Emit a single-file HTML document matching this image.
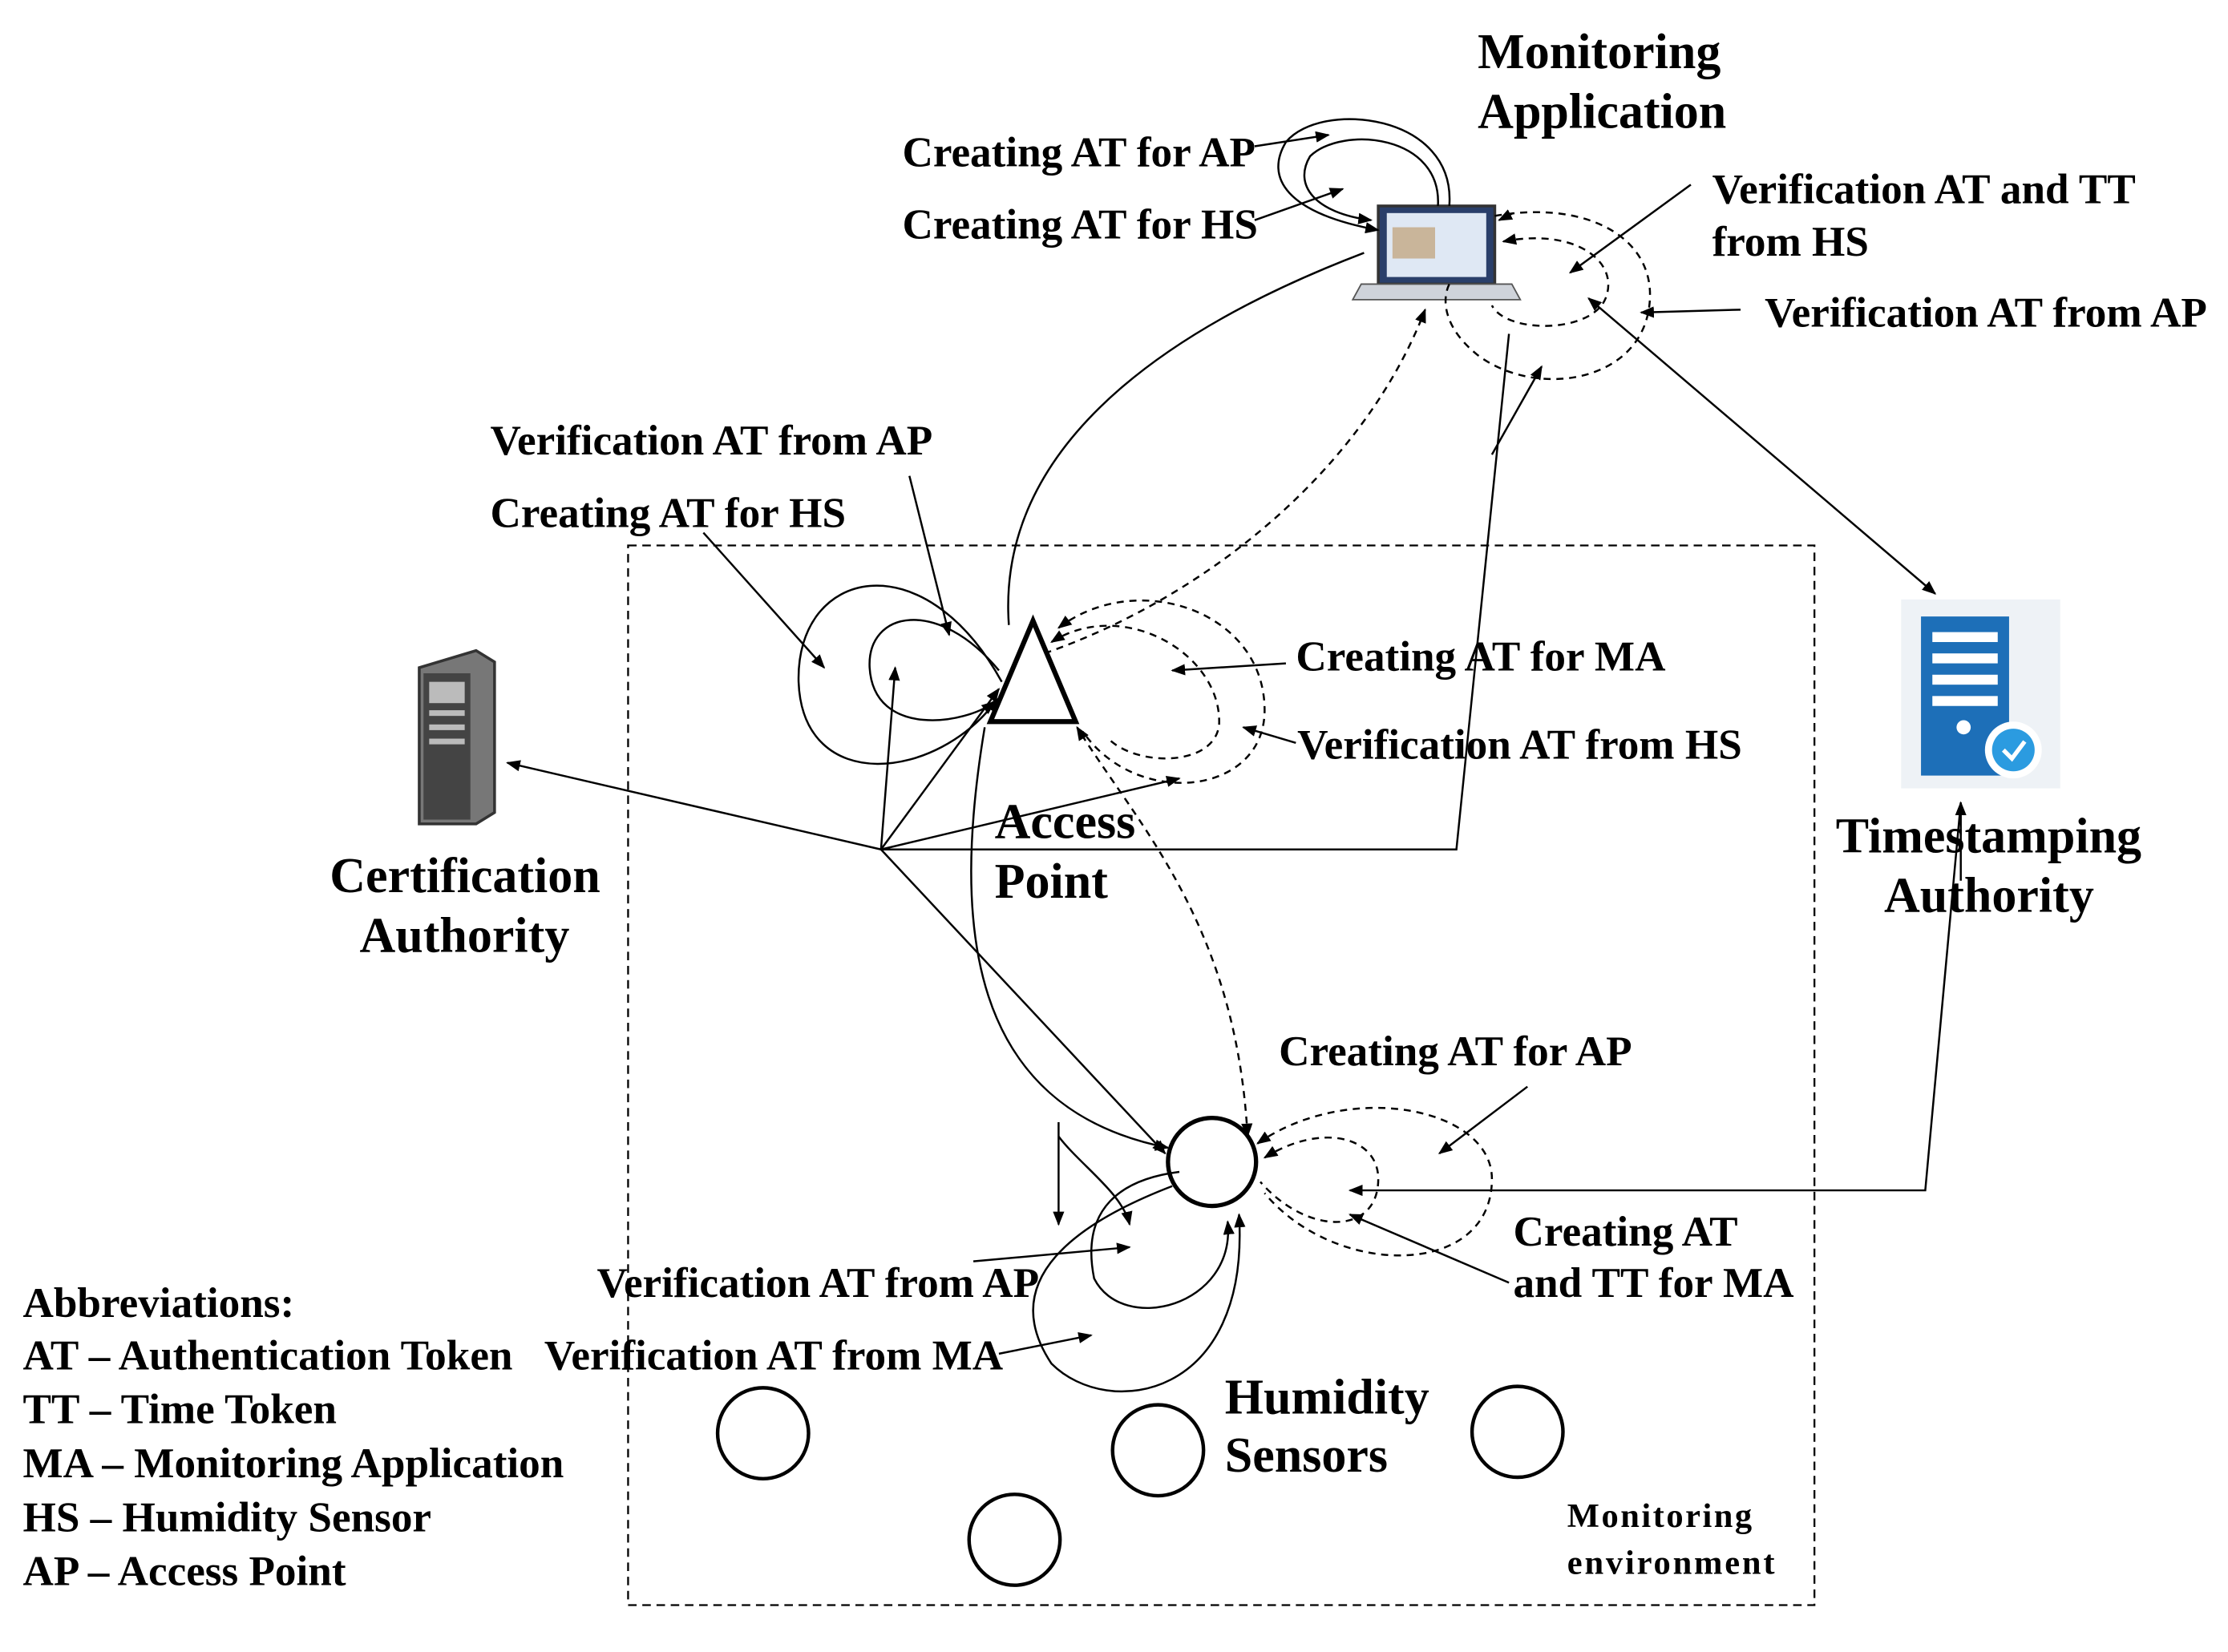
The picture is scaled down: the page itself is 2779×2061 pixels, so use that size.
<!DOCTYPE html>
<html><head><meta charset="utf-8"><style>
html,body{margin:0;padding:0;background:#fff;}
svg{display:block;}
text{font-family:"Liberation Serif",serif;fill:#000;}
.l{font-size:30px;font-weight:bold;}
.t{font-size:35px;font-weight:bold;}
</style></head><body>
<svg width="2779" height="2061" viewBox="0 0 1568 1163" xmlns="http://www.w3.org/2000/svg">
<defs>
<marker id="a" markerWidth="10" markerHeight="8" refX="9" refY="4" orient="auto" markerUnits="userSpaceOnUse">
<path d="M0,0 L10,4 L0,8 Z" fill="#000"/></marker>
<marker id="b" markerWidth="10" markerHeight="8" refX="1" refY="4" orient="auto" markerUnits="userSpaceOnUse">
<path d="M10,0 L0,4 L10,8 Z" fill="#000"/></marker>
</defs>
<rect x="442" y="384" width="835" height="746" fill="none" stroke="#000" stroke-width="1.3" stroke-dasharray="6,4"/>

<rect x="970" y="145" width="82" height="55" fill="#2a3f6a" stroke="#333" stroke-width="2"/>
<rect x="976" y="150" width="70" height="45" fill="#dfe8f4"/>
<rect x="980" y="160" width="30" height="22" fill="#c9b59a"/>
<path d="M958,200 L1064,200 L1070,211 L952,211 Z" fill="#cfd3da" stroke="#555"/>
<path d="M295,470 L335,458 L348,466 L348,572 L335,580 L295,580 Z" fill="#777" stroke="#333" stroke-width="2"/>
<rect x="298" y="474" width="33" height="103" fill="#444"/>
<rect x="302" y="480" width="25" height="15" fill="#bbb"/>
<rect x="302" y="500" width="25" height="4" fill="#bbb"/>
<rect x="302" y="510" width="25" height="4" fill="#bbb"/>
<rect x="302" y="520" width="25" height="4" fill="#bbb"/>
<rect x="1338" y="422" width="112" height="133" fill="#eef2f6"/>
<rect x="1352" y="434" width="62" height="112" fill="#1d6fb8"/>
<rect x="1360" y="445" width="46" height="7" fill="#fff"/>
<rect x="1360" y="460" width="46" height="7" fill="#fff"/>
<rect x="1360" y="475" width="46" height="7" fill="#fff"/>
<rect x="1360" y="490" width="46" height="7" fill="#fff"/>
<circle cx="1382" cy="512" r="5" fill="#fff"/>
<circle cx="1417" cy="528" r="20" fill="#fff"/>
<circle cx="1417" cy="528" r="15" fill="#2b9be0"/>
<path d="M1410,528 L1416,534 L1425,522" stroke="#fff" stroke-width="3" fill="none"/>

<path d="M727,437 L757,508 L697,508 Z" fill="#fff" stroke="#000" stroke-width="3.5"/>
<circle cx="853" cy="818" r="31" fill="none" stroke="#000" stroke-width="3"/>
<circle cx="537" cy="1009" r="32" fill="none" stroke="#000" stroke-width="2.5"/>
<circle cx="815" cy="1021" r="32" fill="none" stroke="#000" stroke-width="2.5"/>
<circle cx="1068" cy="1008" r="32" fill="none" stroke="#000" stroke-width="2.5"/>
<circle cx="714" cy="1084" r="32" fill="none" stroke="#000" stroke-width="2.5"/>

<g fill="none" stroke="#000" stroke-width="1.4">
<path d="M1020,145 C1025,80 930,70 905,100 C890,125 905,150 970,162" marker-end="url(#a)"/>
<path d="M1012,145 C1015,95 945,88 922,110 C910,130 925,150 965,155" marker-end="url(#a)"/>
<line x1="883" y1="103" x2="935" y2="95" marker-end="url(#a)"/>
<line x1="883" y1="155" x2="945" y2="133" marker-end="url(#a)"/>
<path d="M710,440 C700,300 850,220 960,178"/>
<line x1="620" y1="598" x2="357" y2="537" marker-end="url(#a)"/>
<polyline points="620,598 1025,598 1062,235"/>
<line x1="1050" y1="320" x2="1085" y2="258" marker-end="url(#a)"/>
<line x1="620" y1="598" x2="630" y2="470" marker-end="url(#a)"/>
<line x1="620" y1="598" x2="703" y2="485" marker-end="url(#a)"/>
<line x1="620" y1="598" x2="830" y2="548" marker-end="url(#a)"/>
<line x1="620" y1="598" x2="820" y2="812" marker-end="url(#a)"/>
<path d="M693,512 C670,650 680,780 822,808" marker-end="url(#a)"/>
<path d="M705,480 C650,380 560,400 562,480 C565,560 660,550 702,492" marker-end="url(#a)"/>
<path d="M703,472 C660,420 610,430 612,470 C615,520 680,510 700,494" marker-end="url(#a)"/>
<line x1="640" y1="335" x2="668" y2="447" marker-end="url(#a)"/>
<line x1="495" y1="375" x2="580" y2="470" marker-end="url(#a)"/>
<line x1="1118" y1="210" x2="1362" y2="418" marker-start="url(#b)" marker-end="url(#a)"/>
<polyline points="1380,565 1355,838 950,838" marker-end="url(#a)"/>
<line x1="1380" y1="620" x2="1380" y2="565" marker-end="url(#a)"/>
<path d="M825,835 C760,860 700,900 740,960 C780,1000 880,985 872,855" marker-end="url(#a)"/>
<path d="M830,825 C790,830 760,850 770,900 C790,940 870,920 864,860" marker-end="url(#a)"/>
<line x1="745" y1="790" x2="745" y2="862" marker-end="url(#a)"/>
<path d="M745,800 C760,820 790,840 795,862" marker-end="url(#a)"/>
<line x1="685" y1="888" x2="795" y2="878" marker-end="url(#a)"/>
<line x1="703" y1="953" x2="768" y2="940" marker-end="url(#a)"/>
<line x1="1190" y1="130" x2="1105" y2="192" marker-end="url(#a)"/>
<line x1="1225" y1="218" x2="1155" y2="220" marker-end="url(#a)"/>
<line x1="905" y1="467" x2="825" y2="472" marker-end="url(#a)"/>
<line x1="912" y1="523" x2="875" y2="512" marker-end="url(#a)"/>
<line x1="1075" y1="765" x2="1013" y2="812" marker-end="url(#a)"/>
<line x1="1062" y1="903" x2="950" y2="855" marker-end="url(#a)"/>
</g>
<g fill="none" stroke="#000" stroke-width="1.4" stroke-dasharray="5,4">
<path d="M1052,152 C1120,140 1170,170 1160,220 C1150,270 1080,280 1040,250 C1015,230 1015,210 1020,200"/>
<path d="M1058,170 C1110,160 1140,185 1130,210 C1120,235 1060,235 1050,215" marker-start="url(#b)"/>
<path d="M1065,150 L1055,155" marker-end="url(#a)"/>
<path d="M735,460 C850,420 960,330 1003,218" marker-end="url(#a)"/>
<path d="M745,442 C800,400 890,430 890,500 C890,560 800,570 762,515" marker-start="url(#b)"/>
<path d="M740,452 C790,420 860,460 858,510 C855,540 800,540 780,520" marker-start="url(#b)"/>
<path d="M878,800 C870,650 800,580 758,512" marker-start="url(#b)" marker-end="url(#a)"/>
<path d="M885,805 C950,760 1050,780 1050,830 C1050,900 940,900 890,840" marker-start="url(#b)"/>
<path d="M890,815 C930,790 970,800 970,830 C970,870 920,870 887,832" marker-start="url(#b)"/>
</g>

<text class="t" x="1040" y="48">Monitoring</text>
<text class="t" x="1040" y="90">Application</text>
<text class="l" x="635" y="117">Creating AT for AP</text>
<text class="l" x="635" y="168">Creating AT for HS</text>
<text class="l" x="1205" y="143">Verification AT and TT</text>
<text class="l" x="1205" y="180">from HS</text>
<text class="l" x="1242" y="230">Verification AT from AP</text>
<text class="l" x="345" y="320">Verification AT from AP</text>
<text class="l" x="345" y="371">Creating AT for HS</text>
<text class="l" x="912" y="472">Creating AT for MA</text>
<text class="l" x="913" y="534">Verification AT from HS</text>
<text class="t" x="700" y="590">Access</text>
<text class="t" x="700" y="632">Point</text>
<text class="t" x="232" y="628">Certification</text>
<text class="t" x="253" y="670">Authority</text>
<text class="t" x="1292" y="600">Timestamping</text>
<text class="t" x="1326" y="642">Authority</text>
<text class="l" x="900" y="750">Creating AT for AP</text>
<text class="l" x="1065" y="877">Creating AT</text>
<text class="l" x="1065" y="913">and TT for MA</text>
<text class="l" x="420" y="913">Verification AT from AP</text>
<text class="l" x="383" y="964">Verification AT from MA</text>
<text class="t" x="862" y="995">Humidity</text>
<text class="t" x="862" y="1036">Sensors</text>
<text x="1103" y="1075" style="font-size:24px;font-weight:bold" textLength="130">Monitoring</text>
<text x="1103" y="1108" style="font-size:24px;font-weight:bold" textLength="146">environment</text>
<text class="l" x="16" y="927">Abbreviations:</text>
<text class="l" x="16" y="964">AT – Authentication Token</text>
<text class="l" x="16" y="1002">TT – Time Token</text>
<text class="l" x="16" y="1040">MA – Monitoring  Application</text>
<text class="l" x="16" y="1078">HS – Humidity Sensor</text>
<text class="l" x="16" y="1116">AP – Access Point</text>
</svg>
</body></html>
